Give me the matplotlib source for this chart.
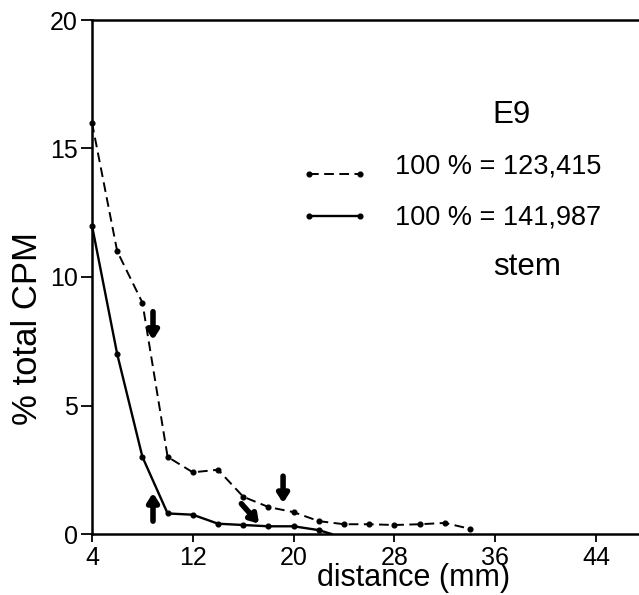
import matplotlib
matplotlib.use("Agg")
import matplotlib.pyplot as plt

plt.rcParams['font.family'] = ['Liberation Sans', 'DejaVu Sans']

# data
x_dash = [4, 6, 8, 10, 12, 14, 16, 18, 20, 22, 24, 26, 28, 30, 32, 34]
y_dash = [16.0, 11.0, 9.0, 3.0, 2.4, 2.5, 1.45, 1.05, 0.85, 0.5, 0.38, 0.38, 0.35, 0.38, 0.43, 0.2]
x_solid = [4, 6, 8, 10, 12, 14, 16, 18, 20, 22]
y_solid = [12.0, 7.0, 3.0, 0.8, 0.75, 0.4, 0.35, 0.3, 0.3, 0.15]
x_solid_end = [22, 23]
y_solid_end = [0.15, 0.0]

xticks = [4, 12, 20, 28, 36, 44]
yticks = [0, 5, 10, 15, 20]

# arrows: (tail_x, tail_y, tip_x, tip_y)
arrows = [
    (8.84, 8.65, 8.84, 7.55),
    (8.84, 0.5, 8.84, 1.6),
    (15.85, 1.18, 17.25, 0.4),
    (19.16, 2.25, 19.16, 1.2),
]

legend_labels = ["100 % = 123,415", "100 % = 141,987"]
title_text = "E9"
sub_text = "stem"

fig = plt.figure(figsize=(6.39, 5.95), dpi=100)
ax = fig.add_axes([92/639, 1-534/595, 547/639, 514/595])

dash_style = (0, (5, 2.8))
ax.plot(x_dash, y_dash, color='black', lw=1.4, ls=dash_style,
        marker='o', ms=3.4, mfc='black', mec='black', clip_on=False)
ax.plot(x_solid, y_solid, color='black', lw=1.7,
        marker='o', ms=3.4, mfc='black', mec='black', clip_on=False)
ax.plot(x_solid_end, y_solid_end, color='black', lw=1.7)

for tx, ty, hx, hy in arrows:
    ax.annotate('', xy=(hx, hy), xytext=(tx, ty),
                arrowprops=dict(arrowstyle='-|>,head_width=0.32,head_length=0.5',
                                lw=4.0, color='black', shrinkA=0, shrinkB=0))

ax.set_xlim(4, 47.4)
ax.set_ylim(0, 20)
ax.set_xticks(xticks)
ax.set_yticks(yticks)
ax.tick_params(axis='both', direction='out', width=1.3, labelsize=18, color='black')
ax.tick_params(axis='x', length=6, pad=2.5)
ax.tick_params(axis='y', length=8, pad=2)

for s in ['left', 'bottom', 'top']:
    ax.spines[s].set_linewidth(1.8)
ax.spines['right'].set_visible(False)

ax.set_xlabel('distance (mm)', fontsize=22)
ax.xaxis.set_label_coords(0.587, -0.057)
ax.set_ylabel('% total CPM', fontsize=25)
ax.yaxis.label.set_va('center')
ax.yaxis.set_label_coords(-0.118, 0.40)

# legend (manual)
ax.plot([0.397, 0.490], [0.700, 0.700], transform=ax.transAxes, color='black',
        lw=1.4, ls=dash_style, marker='o', ms=3.4, clip_on=False)
ax.plot([0.397, 0.490], [0.619, 0.619], transform=ax.transAxes, color='black',
        lw=1.7, marker='o', ms=3.4, clip_on=False)
ax.text(0.554, 0.702, legend_labels[0], transform=ax.transAxes, fontsize=19.5, va='baseline', ha='left')
ax.text(0.554, 0.603, legend_labels[1], transform=ax.transAxes, fontsize=19.5, va='baseline', ha='left')
ax.text(0.766, 0.800, title_text, transform=ax.transAxes, fontsize=22.5, va='baseline', ha='center')
ax.text(0.733, 0.504, sub_text, transform=ax.transAxes, fontsize=22.5, va='baseline', ha='left')

fig.savefig('out.png', dpi=100)
